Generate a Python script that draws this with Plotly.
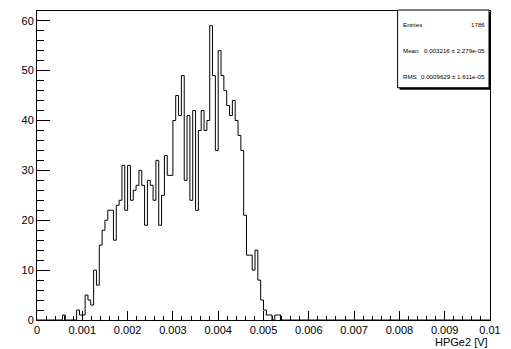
import numpy as np
import plotly.graph_objects as go

# ---- histogram definition (ROOT TH1, 160 bins on [0, 0.01]) ----
n_bins = 160
x_min, x_max = 0.0, 0.01
first_bin = 9
counts_from_first = [1, 0, 0, 0, 0, 2, 1, 1, 5, 4, 3, 10, 7, 15, 18, 20,
                     22, 22, 16, 23, 24, 31, 22, 31, 24, 26, 27, 30, 27, 19, 28,
                     27, 24, 32, 19, 25, 33, 29, 29, 40, 45, 41, 49, 28, 41, 24,
                     42, 22, 38, 42, 38, 40, 59, 49, 34,
                     54, 49, 46, 43, 41, 44, 40, 37, 34, 21, 13, 13, 10, 14, 8, 4,
                     2, 1, 1, 0, 1, 1]
counts = [0] * first_bin + counts_from_first
counts = counts + [0] * (n_bins - len(counts))

x_tick_vals = [0, 0.001, 0.002, 0.003, 0.004, 0.005, 0.006, 0.007, 0.008, 0.009, 0.01]
x_tick_text = ["0", "0.001", "0.002", "0.003", "0.004", "0.005", "0.006", "0.007", "0.008", "0.009", "0.01"]
y_tick_vals = [0, 10, 20, 30, 40, 50, 60]
y_tick_text = ["0", "10", "20", "30", "40", "50", "60"]
x_title = "HPGe2 [V]"

stats_labels = ["Entries", "Mean", "RMS"]
stats_values = ["1786", "0.003216 \u00b1 2.279e-05", "0.0009629 \u00b1 1.611e-05"]

y_max = 1.05 * max(counts)

edges = np.linspace(x_min, x_max, n_bins + 1)
xs = list(edges)
ys = counts + [counts[-1]]

W, H = 511, 349
ML, MR, MT, MB = 37, 18, 10, 29
PW, PH = W - ML - MR, H - MT - MB
FONT = "Liberation Sans"


def px_x(px):
    return (px - ML) / PW


def px_y(py):
    return (H - MB - py) / PH


fig = go.Figure()
fig.add_trace(go.Scatter(x=xs, y=ys, mode="lines", line_shape="hv",
                         line=dict(color="black", width=1), hoverinfo="skip",
                         showlegend=False))

fig.update_layout(
    width=W, height=H,
    margin=dict(l=ML, r=MR, t=MT, b=MB),
    paper_bgcolor="white", plot_bgcolor="white",
    font=dict(family=FONT, size=11, color="black"),
    showlegend=False,
)
fig.update_xaxes(
    range=[x_min, x_max], showgrid=False, zeroline=False,
    showline=True, linecolor="black", linewidth=1, mirror=True,
    ticks="inside", ticklen=9, tickwidth=1, tickcolor="black",
    tickvals=x_tick_vals, ticktext=x_tick_text,
    tickfont=dict(family=FONT, size=11),
    minor=dict(ticks="inside", ticklen=4.5, dtick=0.0002, tick0=0,
               tickcolor="black", tickwidth=1, showgrid=False),
)
fig.update_yaxes(
    range=[0, y_max], showgrid=False, zeroline=False,
    showline=True, linecolor="black", linewidth=1, mirror=True,
    ticks="inside", ticklen=13, tickwidth=1, tickcolor="black",
    tickvals=y_tick_vals, ticktext=y_tick_text,
    tickfont=dict(family=FONT, size=11),
    minor=dict(ticks="inside", ticklen=6.5, dtick=2, tick0=0,
               tickcolor="black", tickwidth=1, showgrid=False),
)

# axis title, right aligned like ROOT
fig.add_annotation(text=x_title, xref="paper", yref="paper", x=1, y=0,
                   xanchor="right", yanchor="top", yshift=-14, showarrow=False,
                   font=dict(family=FONT, size=11))

# stats box with shadow
bx0, bx1, by0, by1 = 400, 492, 9, 87
fig.add_shape(type="rect", xref="paper", yref="paper",
              x0=px_x(bx0 + 2), x1=px_x(bx1 + 2), y0=px_y(by1 + 2), y1=px_y(by0 + 2),
              line=dict(color="black", width=0), fillcolor="black", layer="above")
fig.add_shape(type="rect", xref="paper", yref="paper",
              x0=px_x(bx0), x1=px_x(bx1), y0=px_y(by1), y1=px_y(by0),
              line=dict(color="black", width=1), fillcolor="white", layer="above")
row_y = [23.5, 50, 76]
for lab, val, ry in zip(stats_labels, stats_values, row_y):
    fig.add_annotation(text=lab, xref="paper", yref="paper", x=px_x(404), y=px_y(ry),
                       xanchor="left", yanchor="middle", showarrow=False,
                       borderpad=0, font=dict(family=FONT, size=6.2))
    fig.add_annotation(text=val, xref="paper", yref="paper", x=px_x(489), y=px_y(ry),
                       xanchor="right", yanchor="middle", showarrow=False,
                       borderpad=0, font=dict(family=FONT, size=6.2))

fig.write_html("out.html")
